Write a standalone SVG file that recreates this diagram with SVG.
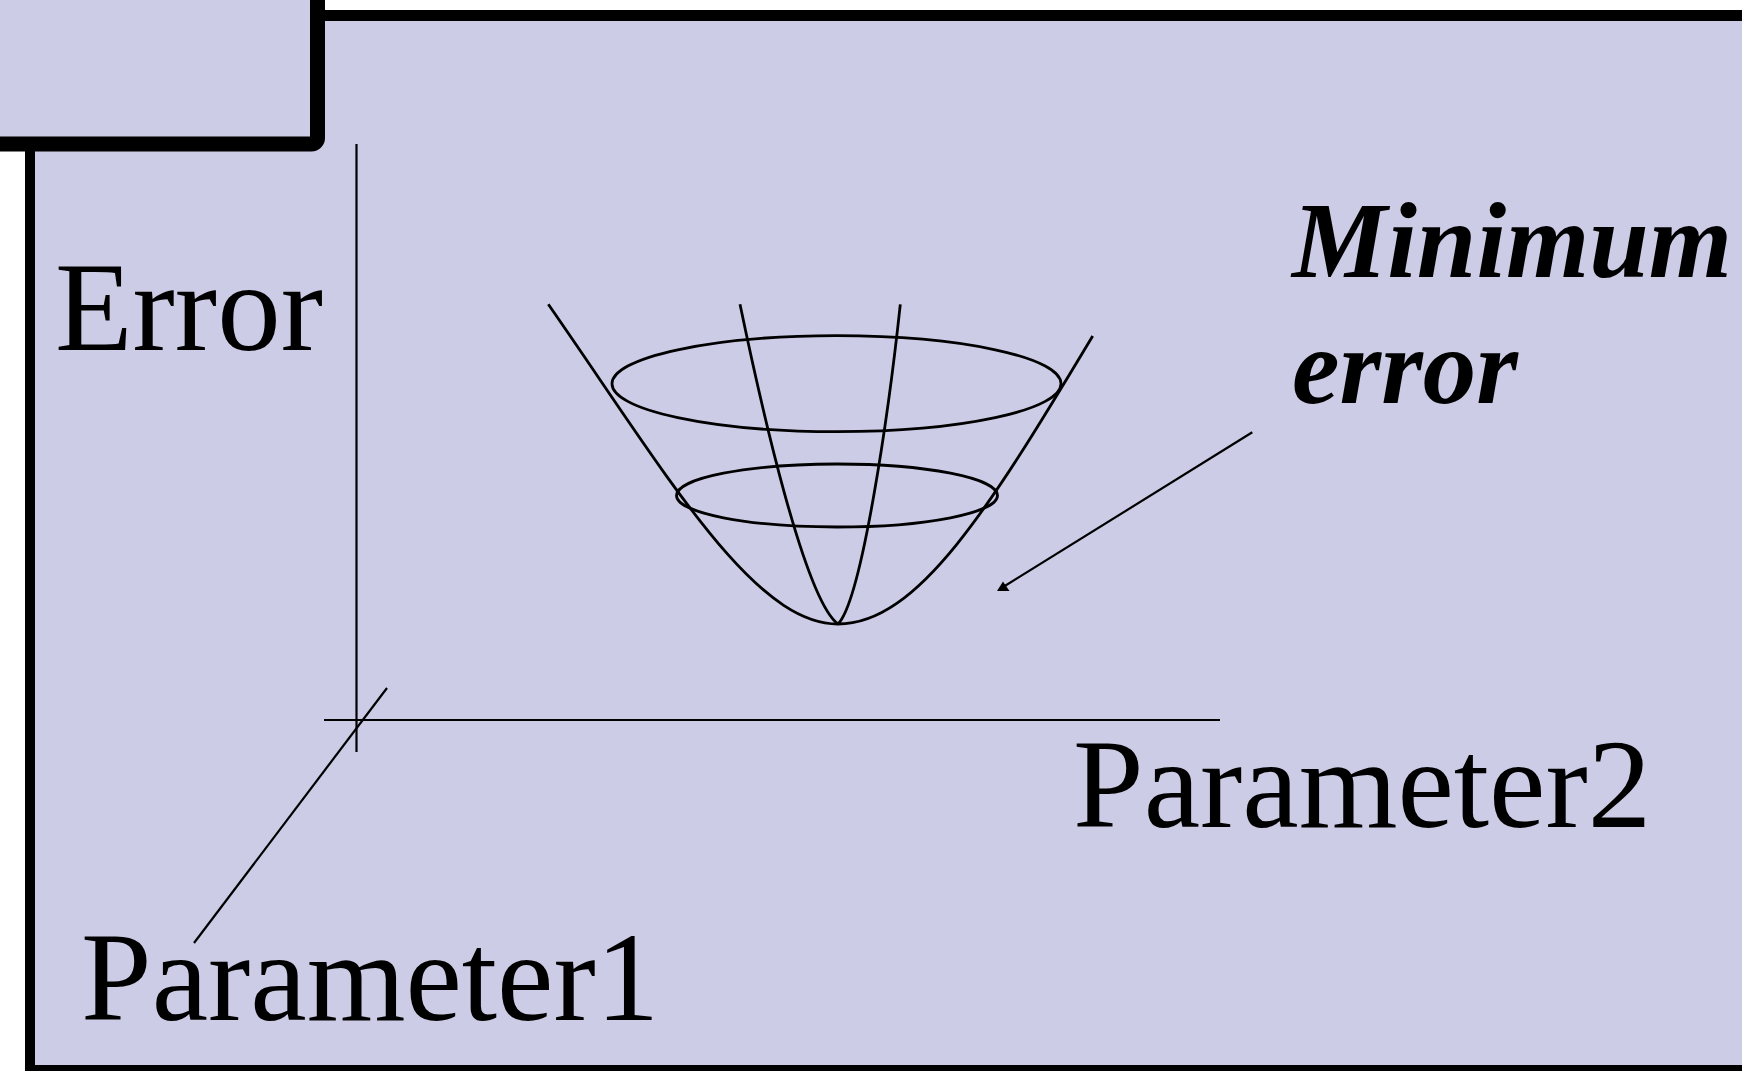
<svg xmlns="http://www.w3.org/2000/svg" width="1742" height="1072" viewBox="0 0 1742 1072">
<defs>
<style>
.ln{fill:none;stroke:#000;stroke-width:2.2;stroke-linecap:butt}
.bw{fill:none;stroke:#000;stroke-width:2.8}
.lbl{font-family:"Liberation Serif","Times New Roman",serif;font-size:127px;fill:#000}
.em{font-family:"Liberation Serif","Times New Roman",serif;font-size:107px;font-weight:bold;font-style:italic;fill:#000}
</style>
</defs>
<rect x="0" y="0" width="1742" height="1072" fill="#ffffff"/>
<g id="frame">
<rect x="30" y="15.5" width="1720" height="1052.5" fill="#CCCCE6"/>
<line x1="320" y1="15.5" x2="1742" y2="15.5" stroke="#000" stroke-width="11"/>
<line x1="30" y1="140" x2="30" y2="1071" stroke="#000" stroke-width="10"/>
<line x1="25" y1="1068" x2="1742" y2="1068" stroke="#000" stroke-width="6"/>
</g>
<g id="corner-box">
<rect x="-30" y="-30" width="347.5" height="174" rx="6" fill="#CCCCE6" stroke="#000" stroke-width="15"/>
</g>
<g id="axes">
<line class="ln" x1="356.5" y1="144" x2="356.5" y2="752"/>
<line class="ln" x1="324" y1="720" x2="1220" y2="720"/>
<line class="ln" x1="387" y1="688" x2="194" y2="943"/>
</g>
<g id="bowl">
<path class="bw" d="M548.3,304.3 C668.2,476.7 753,624 838,624 C918,624 989.9,507.4 1092.7,336"/>
<path class="bw" d="M740,304.3 C762,410 805,600 838,624"/>
<path class="bw" d="M900.3,304.3 C889,410 862,600 838,624"/>
<ellipse class="bw" cx="836.5" cy="383.7" rx="224.5" ry="48"/>
<ellipse class="bw" cx="837" cy="495.5" rx="160.5" ry="31.5"/>
</g>
<g id="connectors">
<line class="ln" x1="1252.3" y1="432.3" x2="1004" y2="586.5" stroke-width="2.5"/>
<polygon points="997,591 1009.5,591 1003,581.5" fill="#000"/>
</g>
<g id="label-error"><text class="lbl" x="55" y="350">Error</text></g>
<g id="label-p1"><text class="lbl" x="81" y="1020">Parameter1</text></g>
<g id="label-p2"><text class="lbl" x="1073" y="827">Parameter2</text></g>
<g id="label-min">
<text class="em" x="1292" y="277">Minimum</text>
<text class="em" x="1292" y="403">error</text>
</g>
</svg>
